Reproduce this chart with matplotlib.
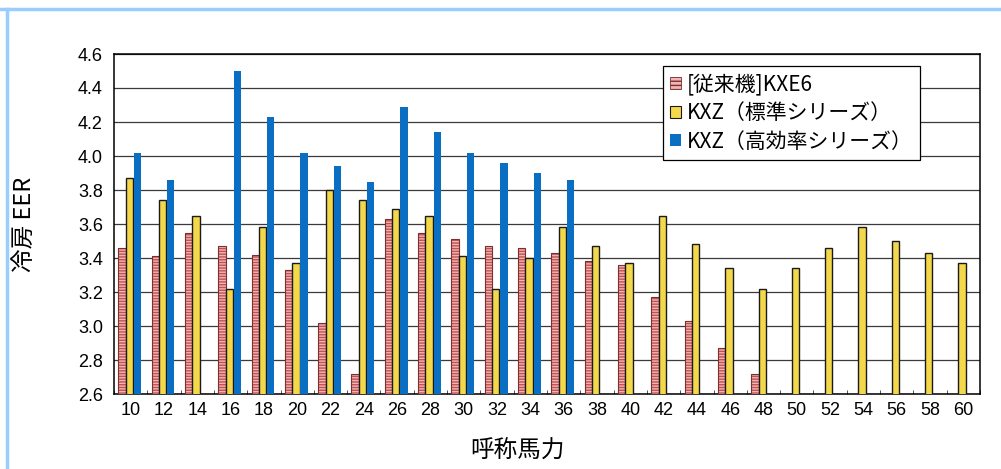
import numpy as np
import matplotlib
matplotlib.use("Agg")
import matplotlib.pyplot as plt
from matplotlib.lines import Line2D

plt.rcParams['font.family'] = ['Noto Sans CJK JP', 'DejaVu Sans']

# 呼称馬力
hp = [10, 12, 14, 16, 18, 20, 22, 24, 26, 28, 30, 32, 34, 36, 38, 40,
      42, 44, 46, 48, 50, 52, 54, 56, 58, 60]
# [従来機]KXE6
kxe6 = [3.46, 3.41, 3.55, 3.47, 3.42, 3.33, 3.02, 2.72, 3.63, 3.55, 3.51, 3.47,
        3.46, 3.43, 3.38, 3.36, 3.17, 3.03, 2.87, 2.72,
        None, None, None, None, None, None]
# KXZ（標準シリーズ）
kxz_std = [3.87, 3.74, 3.65, 3.22, 3.58, 3.37, 3.80, 3.74, 3.69, 3.65, 3.41, 3.22,
           3.40, 3.58, 3.47, 3.37, 3.65, 3.48, 3.34, 3.22, 3.34, 3.46, 3.58, 3.50,
           3.43, 3.37]
# KXZ（高効率シリーズ）
kxz_high = [4.02, 3.86, None, 4.50, 4.23, 4.02, 3.94, 3.85, 4.29, 4.14, 4.02, 3.96,
            3.90, 3.86, None, None, None, None, None, None,
            None, None, None, None, None, None]
yticks = [2.6, 2.8, 3.0, 3.2, 3.4, 3.6, 3.8, 4.0, 4.2, 4.4, 4.6]

names = ['[従来機]KXE6', 'KXZ（標準シリーズ）', 'KXZ（高効率シリーズ）']


def arr(v):
    return np.array([np.nan if a is None else a for a in v], dtype=float)


fig = plt.figure(figsize=(10.01, 4.69), dpi=100)
ax = fig.add_axes([114 / 1001, 1 - 394 / 469, 866 / 1001, 340 / 469])

x = np.arange(len(hp))
w = 0.22

# pink striped bars
ax.bar(x - 0.26, arr(kxe6), w, color='#f2b4b4', edgecolor='#c05252',
       hatch='------', linewidth=0, zorder=3)
ax.bar(x - 0.26, arr(kxe6), w, fill=False, edgecolor='#7a3030',
       linewidth=0.8, zorder=4)
ax.bar(x - 0.04, arr(kxz_std), w, color='#f2d84a', edgecolor='#1a1a1a',
       linewidth=1.0, zorder=4)
ax.bar(x + 0.205, arr(kxz_high), w, color='#0a6fc2', linewidth=0, zorder=4)

ax.set_xlim(-0.5, len(hp) - 0.5)
ax.set_ylim(2.6, 4.6)
ax.set_yticks(yticks)
ax.set_yticklabels([f'{t:.1f}' for t in yticks], family='Liberation Sans',
                   fontsize=13)
ax.set_xticks(x)
ax.set_xticklabels([str(h) for h in hp], family='Liberation Sans', fontsize=13)
ax.set_xticks(np.arange(len(hp) + 1) - 0.5, minor=True)
ax.tick_params(axis='x', which='major', length=0, pad=6)
ax.tick_params(axis='x', which='minor', direction='in', length=3, color='#333333')
ax.tick_params(axis='y', length=0, pad=8)

ax.grid(axis='y', color='#3a3a3a', linewidth=0.9, zorder=1)
ax.set_axisbelow(True)
for s in ax.spines.values():
    s.set_color('black')
    s.set_linewidth(1.1)

ax.set_ylabel('冷房 EER', fontsize=17)
ax.yaxis.set_label_coords((36 - 114) / 866, 0.5)
ax.set_xlabel('呼称馬力', fontsize=17)
ax.xaxis.set_label_coords((517 - 114) / 866, -0.135)

handles = [
    plt.Rectangle((0, 0), 1, 1, facecolor='#f2b4b4', edgecolor='#7a3030',
                  hatch='----', linewidth=0.6),
    plt.Rectangle((0, 0), 1, 1, facecolor='#f2d84a', edgecolor='#1a1a1a',
                  linewidth=0.8),
    plt.Rectangle((0, 0), 1, 1, facecolor='#0a6fc2', linewidth=0),
]
leg = ax.legend(handles, names, loc='upper right',
                bbox_to_anchor=((920 - 114) / 866, (394 - 66) / 340),
                borderaxespad=0, fontsize=15, frameon=True, fancybox=False,
                edgecolor='black', framealpha=1, handlelength=0.5,
                handleheight=0.5, handletextpad=0.3, labelspacing=0.32,
                borderpad=0.35)
leg.get_frame().set_linewidth(0.9)

# light blue frame at top and left
fig.add_artist(Line2D([0.0, 1.0], [1 - 9.5 / 469, 1 - 9.5 / 469],
                      color='#99ccff', linewidth=2.5, transform=fig.transFigure))
fig.add_artist(Line2D([6.5 / 1001, 6.5 / 1001], [0.0, 1 - 9.5 / 469],
                      color='#99ccff', linewidth=2.5, transform=fig.transFigure))

fig.savefig('out.png', dpi=100)
